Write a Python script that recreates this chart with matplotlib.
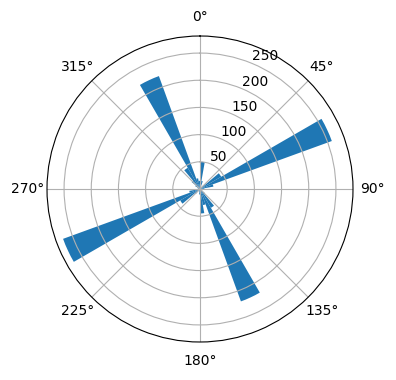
import numpy as np
import matplotlib.pyplot as plt

# 10-degree direction bins, counts
bin_start_deg = np.arange(0, 360, 10)
counts = [50, 15, 5, 3, 8, 45, 258, 25, 8, 3,
          2, 3, 5, 12, 40, 220, 30, 45, 10, 5,
          3, 5, 12, 42, 268, 20, 8, 4, 3, 5,
          10, 20, 45, 221, 20, 15]

fig = plt.figure(figsize=(3.96, 3.8), dpi=100)
ax = fig.add_axes([47 / 396, 38 / 380, 306 / 396, 306 / 380], projection='polar')
ax.set_theta_zero_location('N')
ax.set_theta_direction(-1)

ax.bar(np.deg2rad(bin_start_deg), counts, width=np.deg2rad(10), align='edge')

fig.savefig('out.png', dpi=100)
